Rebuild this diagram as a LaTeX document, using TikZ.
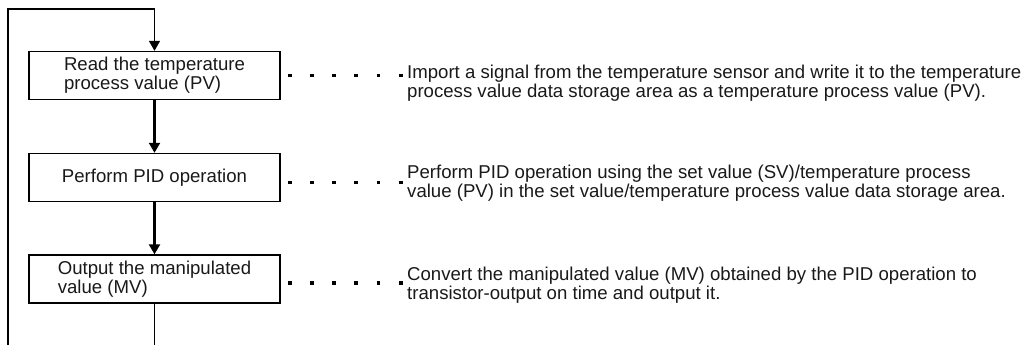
\documentclass[tikz,border=0pt]{standalone}
\usepackage{fontspec}
\setmainfont{Liberation Sans}
\usetikzlibrary{arrows.meta,positioning}

\tikzset{
	stepbox/.style={draw,line width=1.4pt,minimum width=251pt,minimum height=48pt,inner sep=0pt,align=left,
		font=\fontsize{18.6}{19}\selectfont,text=black!90},
	note/.style={anchor=west,inner sep=0pt,align=left,font=\fontsize{18.6}{19}\selectfont,text=black!90},
	tip/.style={-{Triangle[length=10pt,width=11pt]}},
	flow/.style={line width=2.2pt,tip},
	loopline/.style={line width=1.6pt},
	leader/.style={line width=3.8pt,dash pattern=on 3.8pt off 18.4pt}
}

\begin{document}
\begin{tikzpicture}[x=1pt,y=-1pt]
			          \useasboundingbox (0,0) rectangle (1030,345);
			          
			          %steps
			          \node[stepbox] (read) at (154.5,75.5) {Read the temperature\\process value (PV)};
			          \node[stepbox] (pid) at (154.5,177.5) {Perform PID operation};
			          \node[stepbox] (out) at (154.5,279) {Output the manipulated\\value (MV)};
			          
			          %explanations
			          \node[note] (readtxt) at (407,83.6) {Import a signal from the temperature sensor and write it to the temperature\\process value data storage area as a temperature process value (PV).};
			          \node[note] (pidtxt) at (407,183.6) {Perform PID operation using the set value (SV)/temperature process\\value (PV) in the set value/temperature process value data storage area.};
			          \node[note] (outtxt) at (407,285.6) {Convert the manipulated value (MV) obtained by the PID operation to\\transistor-output on time and output it.};
			          
			          %flow
			          \draw[flow] (read) -- (pid);
			          \draw[flow] (pid) -- (out);
			          
			          %loop back
			          \coordinate (lb) at (154.5,345);
			          \coordinate (ll) at (8,345);
			          \coordinate (lt) at (8,9);
			          \coordinate (lr) at (154.5,9);
			          \draw[loopline] (out) -- (lb);
			          \draw[loopline,tip] (ll) -- (lt) -- (lr) -- (read);
			          
			          %dotted leaders
			          \draw[leader] ([xshift=7.1pt]read.east) -- (read.east -| readtxt.west);
			          \draw[leader] ([xshift=7.1pt,yshift=-5pt]pid.east) -- ([yshift=-5pt]pid.east -| pidtxt.west);
			          \draw[leader] ([xshift=7.1pt,yshift=-4pt]out.east) -- ([yshift=-4pt]out.east -| outtxt.west);
				  \end{tikzpicture}
\end{document}
